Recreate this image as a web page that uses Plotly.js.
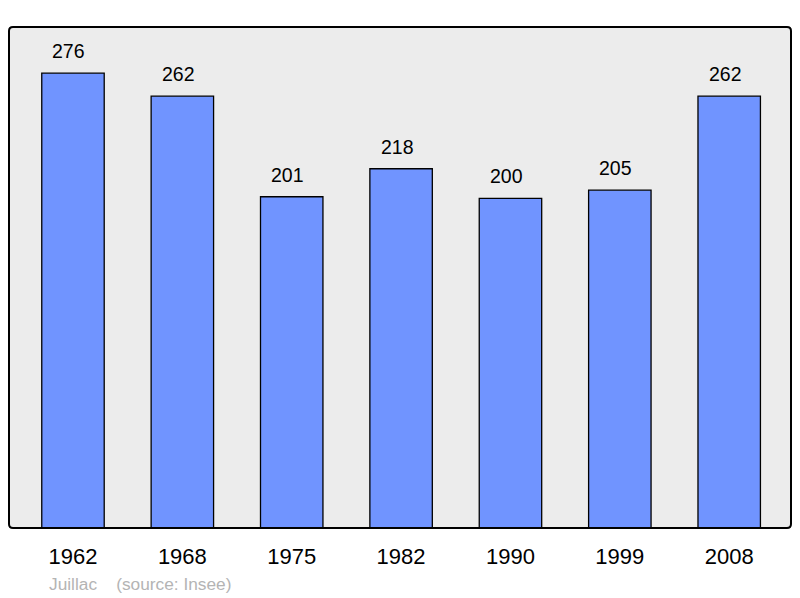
<!DOCTYPE html>
<html>
<head>
<meta charset="utf-8">
<script src="https://cdn.plot.ly/plotly-3.0.1.min.js"></script>
<style>html,body{margin:0;padding:0;background:#fff;}#chart{width:800px;height:598px;}</style>
</head>
<body>
<div id="chart"></div>
<script>
const years = ["1962", "1968", "1975", "1982", "1990", "1999", "2008"];
const population = [276, 262, 201, 218, 200, 205, 262];
const footerText = "Juillac    (source: Insee)";

const xIdx = years.map((_, i) => i);

const trace = {
  type: "bar",
  x: xIdx,
  y: population,
  width: 0.571,
  marker: { color: "#7094ff", line: { color: "#000000", width: 1.3 } },
  hoverinfo: "skip"
};

const FONT = "Liberation Sans, Arial, sans-serif";
const annotations = population.map((v, i) => ({
  x: i, y: v, xref: "x", yref: "y",
  text: String(v), showarrow: false,
  yanchor: "bottom", yshift: 9, xshift: -4,
  font: { family: FONT, size: 19.5, color: "#000" }
}));
const L = 9, R = 8.5, T = 27, B = 70, W = 800, H = 598;
const pw = W - L - R, ph = H - T - B;
annotations.push({
  x: (47 - L) / pw, y: (H - B - 584) / ph, xref: "paper", yref: "paper",
  text: footerText.replace(/ /g, "&nbsp;"), showarrow: false,
  xanchor: "left", yanchor: "middle",
  font: { family: FONT, size: 17.3, color: "#b4b4b4" }
});

// rounded frame path in paper coords (radius ~4px)
const rx = 4 / pw, ry = 4 / ph;
const framePath = `M ${rx},0 L ${1 - rx},0 Q 1,0 1,${ry} L 1,${1 - ry} Q 1,1 ${1 - rx},1 L ${rx},1 Q 0,1 0,${1 - ry} L 0,${ry} Q 0,0 ${rx},0 Z`;

const layout = {
  width: W, height: H,
  margin: { l: L, r: R, t: T, b: B, pad: 0 },
  paper_bgcolor: "#ffffff",
  plot_bgcolor: "#ececec",
  showlegend: false,
  bargap: 0,
  xaxis: {
    range: [-0.585, 6.565],
    tickmode: "array",
    tickvals: xIdx,
    ticktext: years,
    showgrid: false, zeroline: false, showline: false,
    ticks: "outside", ticklen: 0, ticklabelstandoff: 9,
    tickfont: { family: FONT, size: 22, color: "#000" }
  },
  yaxis: {
    range: [0, 304],
    showgrid: false, zeroline: false, showline: false, showticklabels: false, ticks: ""
  },
  shapes: [{
    type: "path", xref: "paper", yref: "paper", path: framePath,
    line: { color: "#000000", width: 2 }, fillcolor: "rgba(0,0,0,0)", layer: "above"
  }],
  annotations: annotations
};

Plotly.newPlot("chart", [trace], layout, { displayModeBar: false, staticPlot: true });
</script>
</body>
</html>
